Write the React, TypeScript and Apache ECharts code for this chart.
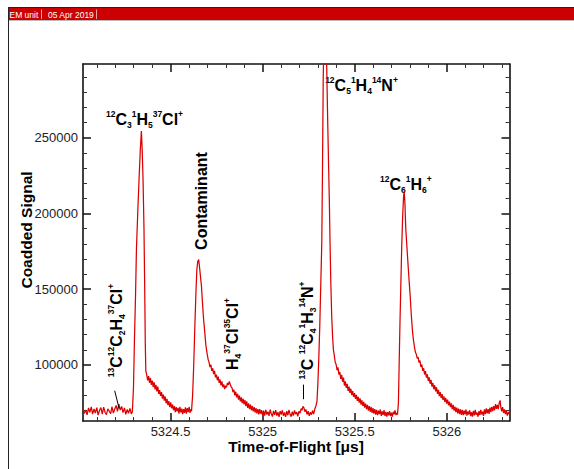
import { useEffect, useRef } from 'react';
import * as echarts from 'echarts';

// ---------- data (time-of-flight [µs], coadded signal) ----------
const segBaselineLeft: [number, number][] = [
  [5324.025, 71200], [5324.032, 67900], [5324.040, 70300], [5324.047, 67100], [5324.055, 71600],
  [5324.062, 68800], [5324.070, 72300], [5324.077, 67600], [5324.085, 70900], [5324.092, 68300],
  [5324.100, 71800], [5324.107, 66900], [5324.115, 70100], [5324.122, 71900], [5324.130, 67500],
  [5324.137, 72200], [5324.145, 68600], [5324.152, 67200], [5324.160, 71000], [5324.167, 69600],
  [5324.175, 67800], [5324.182, 72400], [5324.190, 68200], [5324.197, 70800], [5324.205, 73300],
  [5324.212, 69400], [5324.220, 74100], [5324.227, 70200], [5324.235, 72600], [5324.242, 68500],
  [5324.250, 71700], [5324.257, 67400], [5324.265, 70600], [5324.272, 68100], [5324.280, 71300],
  [5324.287, 67700], [5324.293, 69200],
];

const segPeakC3H5Cl: [number, number][] = [
  [5324.299, 85000], [5324.304, 115000], [5324.310, 145000], [5324.315, 176000], [5324.322, 200000],
  [5324.329, 222000], [5324.336, 242000], [5324.342, 254500], [5324.346, 243000], [5324.351, 222000],
  [5324.356, 190000], [5324.360, 150000], [5324.363, 115000], [5324.366, 96000], [5324.371, 93500],
  [5324.376, 89800], [5324.381, 92600], [5324.386, 88100], [5324.391, 91400], [5324.396, 86900],
  [5324.401, 89700], [5324.406, 85300], [5324.411, 88600], [5324.416, 83900], [5324.421, 86800],
  [5324.426, 82500], [5324.431, 85700], [5324.436, 80900], [5324.441, 83400], [5324.446, 79600],
  [5324.451, 82100], [5324.456, 77800], [5324.461, 80500], [5324.466, 76400], [5324.471, 79200],
  [5324.476, 74700], [5324.481, 77600], [5324.486, 73500], [5324.491, 76100], [5324.496, 72200],
  [5324.501, 75300], [5324.506, 71400], [5324.511, 73900], [5324.516, 70200], [5324.521, 72800],
  [5324.526, 68900], [5324.531, 72100], [5324.536, 69300], [5324.541, 71700], [5324.546, 67900],
  [5324.551, 72400], [5324.556, 68600], [5324.561, 71200], [5324.566, 67500], [5324.571, 70900],
  [5324.576, 68300], [5324.581, 72000], [5324.586, 67800], [5324.591, 71500], [5324.596, 68900],
  [5324.601, 72300], [5324.606, 68400], [5324.610, 70600],
];

const segContaminant: [number, number][] = [
  [5324.614, 69500], [5324.620, 80000], [5324.626, 100000], [5324.632, 125000], [5324.638, 148000],
  [5324.643, 163000], [5324.648, 168500], [5324.653, 169500], [5324.658, 164000], [5324.663, 158000],
  [5324.668, 152000], [5324.673, 142000], [5324.679, 131000], [5324.686, 121500], [5324.692, 113000],
  [5324.698, 108000], [5324.704, 103800], [5324.709, 101900], [5324.714, 98600], [5324.719, 100200],
  [5324.724, 96100], [5324.729, 97800], [5324.734, 93900], [5324.739, 96200], [5324.744, 91800],
  [5324.749, 93600], [5324.754, 89900], [5324.759, 92300], [5324.764, 88200], [5324.769, 90400],
  [5324.774, 86500], [5324.779, 89100], [5324.784, 85300], [5324.789, 87200], [5324.794, 84100],
  [5324.799, 86300], [5324.804, 85200], [5324.809, 88100], [5324.814, 86900], [5324.819, 89200],
  [5324.824, 87300], [5324.829, 85600], [5324.834, 84900], [5324.839, 82100], [5324.844, 83700],
  [5324.849, 79900], [5324.854, 82300], [5324.859, 78600], [5324.864, 80900], [5324.869, 77100],
  [5324.874, 79800], [5324.879, 75900], [5324.884, 78600], [5324.889, 74800], [5324.894, 77700],
  [5324.899, 73900], [5324.904, 76800], [5324.909, 72800], [5324.914, 75900], [5324.919, 71600],
  [5324.924, 74700], [5324.929, 70900], [5324.934, 73800], [5324.939, 70100], [5324.944, 72900],
  [5324.949, 69400], [5324.954, 72200], [5324.959, 68600], [5324.964, 71500], [5324.969, 68100],
  [5324.974, 70800], [5324.979, 67400], [5324.984, 70900], [5324.989, 67800], [5324.994, 70200],
];

const segBaselineMid: [number, number][] = [
  [5324.999, 67100], [5325.005, 69900], [5325.011, 66600], [5325.017, 70400], [5325.023, 67300],
  [5325.029, 69100], [5325.035, 66400], [5325.041, 70600], [5325.047, 67800], [5325.053, 65900],
  [5325.059, 69700], [5325.065, 67000], [5325.071, 70200], [5325.077, 66500], [5325.083, 68900],
  [5325.089, 65800], [5325.095, 69600], [5325.101, 67200], [5325.107, 70100], [5325.113, 66300],
  [5325.119, 68700], [5325.125, 65700], [5325.131, 69500], [5325.137, 66800], [5325.143, 70300],
  [5325.149, 67400], [5325.155, 65900], [5325.161, 69200], [5325.167, 66600], [5325.173, 70000],
  [5325.179, 67500], [5325.185, 68900], [5325.191, 66100], [5325.197, 69400], [5325.203, 68200],
  [5325.209, 71200], [5325.214, 70100], [5325.219, 72600], [5325.224, 71800], [5325.229, 69200],
  [5325.235, 70600], [5325.241, 67300], [5325.247, 69500], [5325.253, 66400], [5325.259, 68800],
  [5325.265, 67200], [5325.271, 69900], [5325.277, 67600], [5325.283, 70800], [5325.289, 72900],
];

const segPeakC5H4N: [number, number][] = [
  [5325.295, 76000], [5325.300, 88000], [5325.305, 105000], [5325.310, 125000], [5325.315, 150000],
  [5325.321, 180000], [5325.325, 230000], [5325.329, 290000], [5325.333, 315000], [5325.338, 322000],
  [5325.343, 316000], [5325.348, 296000], [5325.353, 262000], [5325.358, 232000], [5325.362, 209000],
  [5325.366, 180000], [5325.370, 155000], [5325.375, 132000], [5325.380, 118000], [5325.384, 110300],
  [5325.389, 106200], [5325.394, 101800], [5325.399, 100300], [5325.404, 96500], [5325.409, 98400],
  [5325.414, 93600], [5325.419, 95300], [5325.424, 90800], [5325.429, 93500], [5325.434, 88900],
  [5325.439, 91600], [5325.444, 86400], [5325.449, 89200], [5325.454, 84900], [5325.459, 87500],
  [5325.464, 82800], [5325.469, 85700], [5325.474, 81600], [5325.479, 84300], [5325.484, 80100],
  [5325.489, 82800], [5325.494, 78900], [5325.499, 81400], [5325.504, 77600], [5325.509, 80200],
  [5325.514, 76300], [5325.519, 79000], [5325.524, 75100], [5325.529, 77900], [5325.534, 73800],
  [5325.539, 76700], [5325.544, 72900], [5325.549, 75600], [5325.554, 71800], [5325.559, 74500],
  [5325.564, 70900], [5325.569, 73700], [5325.574, 69800], [5325.579, 72900], [5325.584, 69100],
  [5325.589, 72300], [5325.594, 68400], [5325.599, 71500], [5325.604, 67900], [5325.609, 70800],
  [5325.614, 67200], [5325.619, 70400], [5325.624, 66800], [5325.629, 69900], [5325.634, 67500],
  [5325.639, 70600], [5325.644, 66400], [5325.649, 69300], [5325.654, 67100], [5325.659, 70200],
  [5325.664, 66300], [5325.669, 69000], [5325.674, 65900], [5325.679, 68800], [5325.684, 66700],
  [5325.689, 69600], [5325.694, 66200], [5325.699, 68500], [5325.704, 65800], [5325.709, 69100],
  [5325.714, 67400], [5325.719, 70100], [5325.724, 66900], [5325.729, 68300], [5325.732, 67200],
];

const segPeakC6H6: [number, number][] = [
  [5325.737, 75000], [5325.741, 100000], [5325.745, 125000], [5325.750, 152000], [5325.755, 178300],
  [5325.760, 198000], [5325.765, 211000], [5325.768, 214500], [5325.772, 208000], [5325.777, 190000],
  [5325.783, 178300], [5325.790, 165000], [5325.796, 154000], [5325.801, 145400], [5325.807, 133000],
  [5325.813, 123000], [5325.818, 117000], [5325.824, 112000], [5325.829, 108500], [5325.834, 107100],
  [5325.839, 104300], [5325.844, 105200], [5325.849, 101600], [5325.854, 102900], [5325.859, 98700],
  [5325.864, 100300], [5325.869, 96100], [5325.874, 97800], [5325.879, 93700], [5325.884, 95900],
  [5325.889, 91600], [5325.894, 93800], [5325.899, 89400], [5325.904, 91900], [5325.909, 87600],
  [5325.914, 90100], [5325.919, 85700], [5325.924, 88200], [5325.929, 84100], [5325.934, 86600],
  [5325.939, 82500], [5325.944, 85300], [5325.949, 80900], [5325.954, 83600], [5325.959, 79400],
  [5325.964, 82100], [5325.969, 78200], [5325.974, 80700], [5325.979, 76900], [5325.984, 79300],
  [5325.989, 75600], [5325.994, 78200], [5325.999, 74400], [5326.004, 77100], [5326.009, 73300],
  [5326.014, 75800], [5326.019, 72100], [5326.024, 74700],
];

const segBaselineRight: [number, number][] = [
  [5326.029, 70900], [5326.034, 73600], [5326.039, 69800], [5326.044, 72500], [5326.049, 68900],
  [5326.054, 71800], [5326.059, 68100], [5326.064, 71200], [5326.069, 67600], [5326.074, 70700],
  [5326.079, 67000], [5326.084, 70300], [5326.089, 66800], [5326.094, 69900], [5326.099, 67400],
  [5326.104, 70600], [5326.109, 66500], [5326.114, 69400], [5326.119, 67300], [5326.124, 70100],
  [5326.129, 66200], [5326.134, 68900], [5326.139, 65900], [5326.144, 69700], [5326.149, 66700],
  [5326.154, 70300], [5326.159, 67100], [5326.164, 68600], [5326.169, 65800], [5326.174, 69500],
  [5326.179, 66900], [5326.184, 70400], [5326.189, 67300], [5326.194, 69100], [5326.199, 66400],
  [5326.204, 70700], [5326.209, 67600], [5326.214, 71300], [5326.219, 68000], [5326.224, 70900],
  [5326.229, 67700], [5326.234, 71800], [5326.239, 68900], [5326.244, 72300], [5326.249, 69500],
  [5326.254, 72800], [5326.259, 70100], [5326.264, 74200], [5326.269, 71000], [5326.274, 73600],
  [5326.279, 70800], [5326.284, 74900], [5326.289, 76600], [5326.293, 71900], [5326.298, 69400],
  [5326.303, 72100], [5326.308, 68300], [5326.313, 70600], [5326.318, 67500], [5326.323, 69800],
  [5326.328, 66600], [5326.334, 68900], [5326.340, 67300],
];

// axis ranges and ticks
const xRange = [5324.025, 5326.34];
const yRange = [63000, 298700];
const xMajorTicks = [5324.5, 5325, 5325.5, 5326];
const xMinorTicks = [
  5324.1, 5324.2, 5324.3, 5324.4, 5324.6, 5324.7, 5324.8, 5324.9,
  5325.1, 5325.2, 5325.3, 5325.4, 5325.6, 5325.7, 5325.8, 5325.9,
  5326.1, 5326.2, 5326.3,
];
const yMajorTicks = [100000, 150000, 200000, 250000];
const yMinorTicks = [
  70000, 80000, 90000, 110000, 120000, 130000, 140000, 160000, 170000, 180000, 190000,
  210000, 220000, 230000, 240000, 260000, 270000, 280000, 290000,
];

// leader lines from labels to small peaks (data coordinates)
const leaderLines: [[number, number], [number, number]][] = [
  [[5324.197, 83000], [5324.221, 71300]],
  [[5325.221, 87000], [5325.221, 77400]],
];

// peak labels
const peakLabels = [
  { text: '{p|12}{m|C}{s|3}{p|1}{m|H}{s|5}{p|37}{m|Cl}{p|+}', x: 144.5, y: 119.5, rot: 0 },
  { text: '{m|Contaminant}', x: 201, y: 201, rot: 1 },
  { text: '{m|H}{s|4}{p|37}{m|Cl}{p|35}{m|Cl}{p|+}', x: 232, y: 334, rot: 1 },
  { text: '{p|13}{m|C}{p|12}{m|C}{s|2}{m|H}{s|4}{p|37}{m|Cl}{p|+}', x: 116, y: 330.5, rot: 1 },
  { text: '{p|13}{m|C }{p|12}{m|C}{s|4}{p|1}{m|H}{s|3}{p|14}{m|N}{p|+}', x: 307, y: 330.5, rot: 1 },
  { text: '{p|12}{m|C}{s|5}{p|1}{m|H}{s|4}{p|14}{m|N}{p|+}', x: 361.5, y: 85.5, rot: 0 },
  { text: '{p|12}{m|C}{s|6}{p|1}{m|H}{s|6}{p|+}', x: 405.8, y: 184.2, rot: 0 },
];

const FONT = '"Liberation Sans", Arial, Helvetica, sans-serif';

const rich = {
  m: { fontSize: 16, fontWeight: 'bold', lineHeight: 20, verticalAlign: 'middle', fill: '#000', fontFamily: FONT },
  p: { fontSize: 8.5, fontWeight: 'bold', lineHeight: 7.2, verticalAlign: 'top', fill: '#000', fontFamily: FONT },
  s: { fontSize: 8.5, fontWeight: 'bold', lineHeight: 12, verticalAlign: 'bottom', fill: '#000', fontFamily: FONT },
};

function buildOption() {
  const data = [
    ...segBaselineLeft, ...segPeakC3H5Cl, ...segContaminant, ...segBaselineMid,
    ...segPeakC5H4N, ...segPeakC6H6, ...segBaselineRight,
  ];
  const fmt = (v: number) => String(v);
  const lineStyle = { color: '#111', width: 1.6 };
  const majorTick = (vals: number[]) => ({ show: true, inside: true, length: 8, customValues: vals, lineStyle: { color: '#111', width: 1.5 } });
  const minorTick = (vals: number[]) => ({ show: true, inside: true, length: 4, customValues: vals, lineStyle: { color: '#333', width: 1 } });
  const xBase = { type: 'value', min: xRange[0], max: xRange[1], splitLine: { show: false }, silent: true };
  const yBase = { type: 'value', min: yRange[0], max: yRange[1], splitLine: { show: false }, silent: true };
  const labelStyle = { fontSize: 13, color: '#222', fontFamily: FONT, formatter: fmt };

  const graphic: any[] = [
    // page frame & header bar
    { type: 'line', shape: { x1: 8, y1: 7.5, x2: 574, y2: 7.5 }, style: { stroke: '#222', lineWidth: 1 }, silent: true },
    { type: 'line', shape: { x1: 8.5, y1: 7, x2: 8.5, y2: 469 }, style: { stroke: '#222', lineWidth: 1 }, silent: true },
    { type: 'rect', shape: { x: 9, y: 8, width: 565, height: 12 }, style: { fill: '#cc0000' }, silent: true },
    { type: 'line', shape: { x1: 9, y1: 20.5, x2: 574, y2: 20.5 }, style: { stroke: '#bbbbbb', lineWidth: 1 }, silent: true },
    { type: 'line', shape: { x1: 41.5, y1: 9.5, x2: 41.5, y2: 19 }, style: { stroke: '#f0a0a0', lineWidth: 1 }, silent: true },
    { type: 'line', shape: { x1: 96.5, y1: 9.5, x2: 96.5, y2: 19 }, style: { stroke: '#f0a0a0', lineWidth: 1 }, silent: true },
    { type: 'text', x: 9.5, y: 14.5, style: { text: 'EM unit', fill: '#fff', fontSize: 8.5, fontFamily: FONT, verticalAlign: 'middle', align: 'left' }, silent: true },
    { type: 'text', x: 48, y: 14.5, style: { text: '05 Apr 2019', fill: '#fff', fontSize: 8.5, fontFamily: FONT, verticalAlign: 'middle', align: 'left' }, silent: true },
    // axis titles
    { type: 'text', x: 26.5, y: 230, rotation: Math.PI / 2, style: { text: 'Coadded Signal', fill: '#000', fontSize: 15.5, fontWeight: 'bold', fontFamily: FONT, align: 'center', verticalAlign: 'middle' }, silent: true },
    { type: 'text', x: 296, y: 446, style: { text: 'Time-of-Flight [\u03bcs]', fill: '#000', fontSize: 15.5, fontWeight: 'bold', fontFamily: FONT, align: 'center', verticalAlign: 'middle' }, silent: true },
  ];
  peakLabels.forEach((l) => {
    graphic.push({
      type: 'text', x: l.x, y: l.y, rotation: l.rot ? Math.PI / 2 : 0, silent: true,
      style: { text: l.text, rich, fill: '#000', fontFamily: FONT, fontWeight: 'bold', fontSize: 16, align: 'center', verticalAlign: 'middle' },
    });
  });

  return {
    animation: false,
    backgroundColor: '#fff',
    grid: { left: 83, right: 64.5, top: 64, bottom: 48, containLabel: false, outerBoundsMode: 'none' },
    xAxis: [
      { ...xBase, position: 'bottom', axisLine: { show: true, onZero: false, lineStyle }, axisTick: majorTick(xMajorTicks), axisLabel: { show: true, customValues: xMajorTicks, margin: 4, ...labelStyle } },
      { ...xBase, position: 'top', axisLine: { show: true, onZero: false, lineStyle }, axisTick: majorTick(xMajorTicks), axisLabel: { show: false } },
      { ...xBase, position: 'bottom', axisLine: { show: false }, axisTick: minorTick(xMinorTicks), axisLabel: { show: false } },
      { ...xBase, position: 'top', axisLine: { show: false }, axisTick: minorTick(xMinorTicks), axisLabel: { show: false } },
    ],
    yAxis: [
      { ...yBase, position: 'left', axisLine: { show: true, onZero: false, lineStyle }, axisTick: majorTick(yMajorTicks), axisLabel: { show: true, customValues: yMajorTicks, margin: 5, ...labelStyle } },
      { ...yBase, position: 'right', axisLine: { show: true, onZero: false, lineStyle }, axisTick: majorTick(yMajorTicks), axisLabel: { show: false } },
      { ...yBase, position: 'left', axisLine: { show: false }, axisTick: minorTick(yMinorTicks), axisLabel: { show: false } },
      { ...yBase, position: 'right', axisLine: { show: false }, axisTick: minorTick(yMinorTicks), axisLabel: { show: false } },
    ],
    series: [
      {
        type: 'line', xAxisIndex: 0, yAxisIndex: 0, data, showSymbol: false, symbol: 'none', clip: true, silent: true,
        lineStyle: { color: '#dd0000', width: 1.25 }, emphasis: { disabled: true },
        markLine: {
          silent: true, symbol: ['none', 'none'], label: { show: false }, animation: false,
          lineStyle: { color: '#000', width: 1, type: 'solid' },
          data: leaderLines.map(([a, b]) => [{ coord: a }, { coord: b }]),
        },
      },
    ],
    graphic,
  };
}

export default function App() {
  const ref = useRef<HTMLDivElement>(null);
  useEffect(() => {
    const chart = echarts.init(ref.current as HTMLDivElement, null, { renderer: 'svg' });
    chart.setOption(buildOption() as any);
    return () => chart.dispose();
  }, []);
  return <div ref={ref} style={{ position: 'fixed', left: 0, top: 0, width: 574, height: 469, background: '#fff' }} />;
}
